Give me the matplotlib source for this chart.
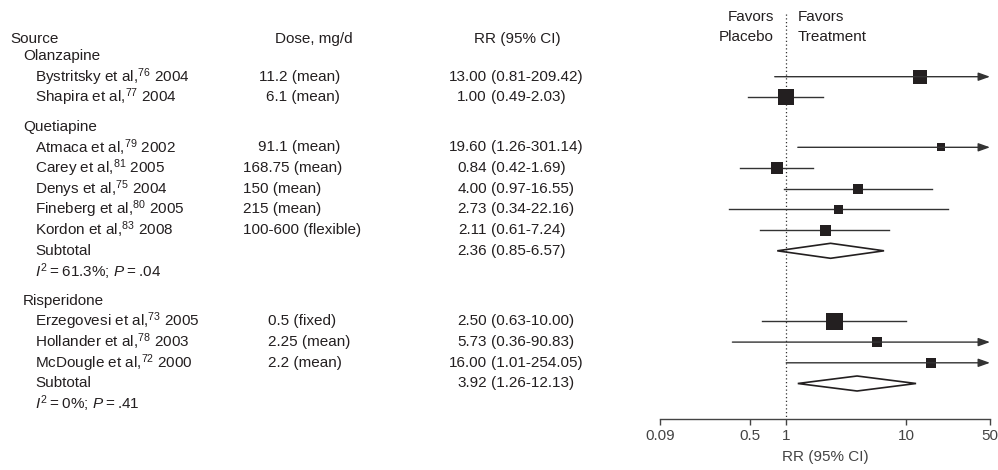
import matplotlib
matplotlib.use("Agg")
import matplotlib.pyplot as plt
from matplotlib.patches import Polygon

plt.rcParams['font.family'] = ['Liberation Sans', 'DejaVu Sans']
plt.rcParams['mathtext.fontset'] = 'custom'
plt.rcParams['mathtext.rm'] = 'Liberation Sans'
plt.rcParams['mathtext.it'] = 'Liberation Sans:italic'

# data
groups = ["Olanzapine", "Quetiapine", "Risperidone"]
authors = ["Bystritsky", "Shapira",
           "Atmaca", "Carey", "Denys", "Fineberg", "Kordon",
           "Erzegovesi", "Hollander", "McDougle"]
refs = ["76", "77", "79", "81", "75", "80", "83", "73", "78", "72"]
years = ["2004", "2004", "2002", "2005", "2004", "2005", "2008", "2005", "2003", "2000"]
study_group = [0, 0, 1, 1, 1, 1, 1, 2, 2, 2]
doses = ["11.2 (mean)", "6.1 (mean)",
         "91.1 (mean)", "168.75 (mean)", "150 (mean)", "215 (mean)", "100-600 (flexible)",
         "0.5 (fixed)", "2.25 (mean)", "2.2 (mean)"]
rr = [13.00, 1.00, 19.60, 0.84, 4.00, 2.73, 2.11, 2.50, 5.73, 16.00]
lo = [0.81, 0.49, 1.26, 0.42, 0.97, 0.34, 0.61, 0.63, 0.36, 1.01]
hi = [209.42, 2.03, 301.14, 1.69, 16.55, 22.16, 7.24, 10.00, 90.83, 254.05]
box_px = [14, 16, 8, 12, 10, 9, 11, 17, 10, 10]   # study weight squares

sub_group = [1, 2]
sub_rr = [2.36, 3.92]
sub_lo = [0.85, 1.26]
sub_hi = [6.57, 12.13]
sub_i2 = ["61.3%", "0%"]
sub_p = [".04", ".41"]

ticks = [0.09, 0.5, 1, 10, 50]
tick_labels = ["0.09", "0.5", "1", "10", "50"]
xmin, xmax = 0.09, 50

# layout (pixels)
W, H = 998, 470
dose_x = [340, 340, 340, 243, 243, 243, 243, 268, 268, 268]
dose_ha = ["right", "right", "right", "left", "left", "left", "left", "left", "left", "left"]
txt = '#231f20'
fs = 11

fig = plt.figure(figsize=(W / 100, H / 100), dpi=100)
tax = fig.add_axes([0, 0, 1, 1])
tax.set_xlim(0, W)
tax.set_ylim(H, 0)
tax.axis("off")

axis_y = 419
fax = fig.add_axes([660 / W, (H - axis_y) / H, 330 / W, axis_y / H])
fax.set_xscale("log")
fax.set_xlim(xmin, xmax)
fax.set_ylim(axis_y, 0)
fax.patch.set_alpha(0)
for s in ["top", "right", "left"]:
    fax.spines[s].set_visible(False)
fax.spines["bottom"].set_color("#444444")
fax.spines["bottom"].set_linewidth(1)
fax.set_yticks([])
fax.set_xticks(ticks)
fax.set_xticklabels(tick_labels)
fax.minorticks_off()
fax.tick_params(axis="x", direction="out", length=4.5, width=1, color="#444444",
                labelsize=fs, labelcolor="#444444", pad=3)

# headers
tax.text(10, 39, "Source", fontsize=fs, color=txt, va="center", ha="left")
tax.text(314, 39, "Dose, mg/d", fontsize=fs, color=txt, va="center", ha="center")
tax.text(517, 39, "RR (95% CI)", fontsize=fs, color=txt, va="center", ha="center")
tax.text(774, 17, "Favors", fontsize=fs, color=txt, va="center", ha="right")
tax.text(774, 37, "Placebo", fontsize=fs, color=txt, va="center", ha="right")
tax.text(798, 17, "Favors", fontsize=fs, color=txt, va="center", ha="left")
tax.text(798, 37, "Treatment", fontsize=fs, color=txt, va="center", ha="left")
tax.text(825, 457, "RR (95% CI)", fontsize=fs, color="#444444", va="center", ha="center")

fax.plot([1, 1], [14, axis_y], linestyle=(0, (1, 2)), color="#333333", lw=0.9)

line_h = 20.7
gap = 8.5
y = 56
for g, gname in enumerate(groups):
    tax.text(23, y, gname, fontsize=fs, color=txt, va="center")
    y += line_h
    for i in [k for k, sg in enumerate(study_group) if sg == g]:
        tax.text(35, y, f"{authors[i]} et al,$^{{{refs[i]}}}$ {years[i]}",
                 fontsize=fs, color=txt, va="center")
        tax.text(dose_x[i], y, doses[i], fontsize=fs, color=txt, va="center", ha=dose_ha[i])
        tax.text(487, y, f"{rr[i]:.2f}", fontsize=fs, color=txt, va="center", ha="right")
        tax.text(491, y, f"({lo[i]:.2f}-{hi[i]:.2f})", fontsize=fs, color=txt, va="center", ha="left")
        if hi[i] > xmax:
            fax.annotate("", xy=(xmax, y), xytext=(lo[i], y),
                         arrowprops=dict(arrowstyle="-|>,head_length=0.7,head_width=0.25",
                                         color="#333333", lw=1, shrinkA=0, shrinkB=0))
        else:
            fax.plot([lo[i], hi[i]], [y, y], color="#333333", lw=1)
        fax.plot(rr[i], y, marker="s", markersize=box_px[i] * 0.72,
                 color="#231f20", markeredgewidth=0)
        y += line_h
    if g in sub_group:
        j = sub_group.index(g)
        tax.text(35, y, "Subtotal", fontsize=fs, color=txt, va="center")
        tax.text(487, y, f"{sub_rr[j]:.2f}", fontsize=fs, color=txt, va="center", ha="right")
        tax.text(491, y, f"({sub_lo[j]:.2f}-{sub_hi[j]:.2f})", fontsize=fs, color=txt,
                 va="center", ha="left")
        d = Polygon([(sub_lo[j], y), (sub_rr[j], y - 7.5), (sub_hi[j], y), (sub_rr[j], y + 7.5)],
                    closed=True, facecolor="white", edgecolor="#231f20", lw=1.2)
        fax.add_patch(d)
        y += line_h
        tax.text(35, y, f"$I^2$\u2009=\u2009{sub_i2[j]}; $P$\u2009=\u2009{sub_p[j]}",
                 fontsize=fs, color=txt, va="center")
        y += line_h
    y += gap

fig.savefig("out.png", dpi=100)
